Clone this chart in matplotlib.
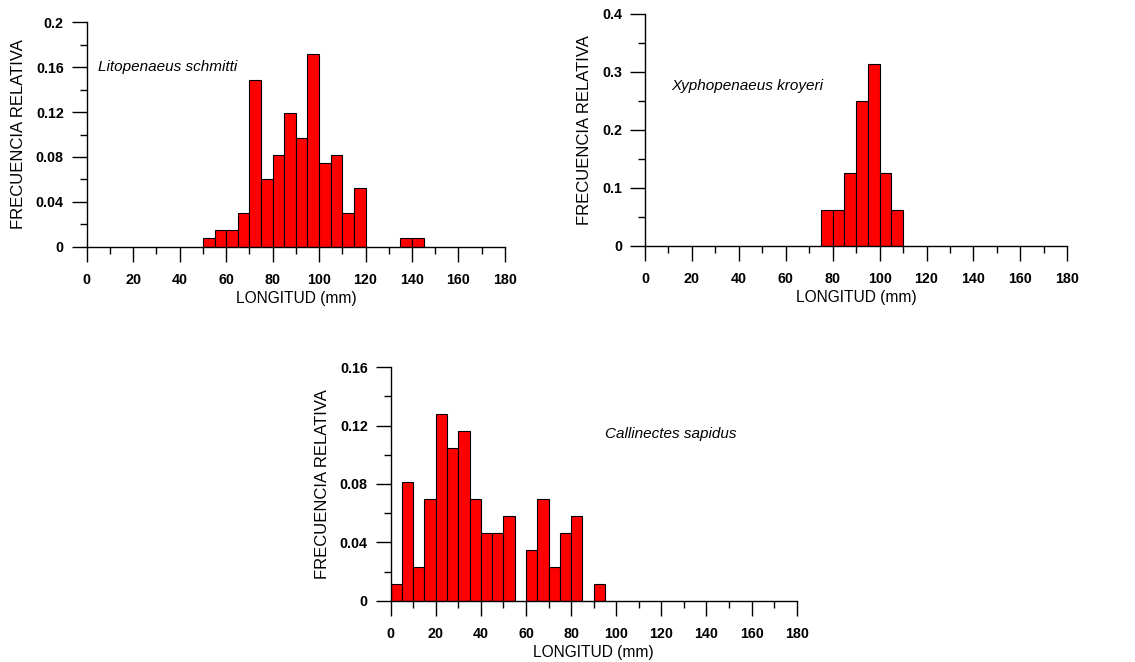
import matplotlib
matplotlib.use("Agg")
import matplotlib.pyplot as plt
from matplotlib.ticker import MultipleLocator, FormatStrFormatter

plt.rcParams['font.family'] = ['Liberation Sans', 'DejaVu Sans']

# Litopenaeus schmitti
ls_left = [50, 55, 60, 65, 70, 75, 80, 85, 90, 95, 100, 105, 110, 115, 135, 140]
ls_freq = [0.0075, 0.015, 0.015, 0.030, 0.149, 0.060, 0.082, 0.119, 0.097, 0.172,
           0.075, 0.082, 0.030, 0.052, 0.0075, 0.0075]

# Xyphopenaeus kroyeri
xk_left = [75, 80, 85, 90, 95, 100, 105]
xk_freq = [0.0625, 0.0625, 0.125, 0.25, 0.3125, 0.125, 0.0625]

# Callinectes sapidus
cs_left = [0, 5, 10, 15, 20, 25, 30, 35, 40, 45, 50, 60, 65, 70, 75, 80, 90]
cs_freq = [0.0116, 0.0814, 0.0233, 0.0698, 0.128, 0.1047, 0.1163, 0.0698, 0.0465,
           0.0465, 0.0581, 0.0349, 0.0698, 0.0233, 0.0465, 0.0581, 0.0116]

bin_width = 5
x_max = 180


def histograma(ax, lefts, freqs, especie, y_max, y_major, y_minor, pos_texto):
    """Dibuja un histograma de frecuencia relativa con el estilo del original."""
    ax.bar(lefts, freqs, width=bin_width, align='edge', color='#ff0000',
           edgecolor='black', linewidth=0.8)

    ax.set_xlim(0, x_max)
    ax.set_ylim(0, y_max)
    ax.spines['top'].set_visible(False)
    ax.spines['right'].set_visible(False)
    for s in ('left', 'bottom'):
        ax.spines[s].set_linewidth(1.0)

    ax.xaxis.set_major_locator(MultipleLocator(20))
    ax.xaxis.set_minor_locator(MultipleLocator(10))
    ax.yaxis.set_major_locator(MultipleLocator(y_major))
    ax.yaxis.set_minor_locator(MultipleLocator(y_minor))
    ax.yaxis.set_major_formatter(FormatStrFormatter('%g'))

    ax.tick_params(which='major', direction='out', length=10.5, width=1.0, pad=6,
                   labelsize=10.3)
    ax.tick_params(axis='x', which='major', pad=8.5)
    ax.tick_params(which='minor', direction='out', length=5, width=1.0)
    for lbl in ax.get_xticklabels() + ax.get_yticklabels():
        lbl.set_fontweight('bold')

    ax.set_xlabel('LONGITUD (mm)', fontsize=11.2, labelpad=2.5)
    ax.set_ylabel('FRECUENCIA RELATIVA', fontsize=12, labelpad=7)
    ax.text(pos_texto[0], pos_texto[1], especie, fontsize=11, style='italic',
            va='center', ha='left')


fig = plt.figure(figsize=(11.35, 6.62), dpi=100)

ax1 = fig.add_axes([0.0764, 0.6273, 0.3685, 0.339])
histograma(ax1, ls_left, ls_freq, 'Litopenaeus schmitti', 0.2, 0.04, 0.02, (5, 0.16))

ax2 = fig.add_axes([0.5683, 0.6284, 0.372, 0.351])
histograma(ax2, xk_left, xk_freq, 'Xyphopenaeus kroyeri', 0.4, 0.1, 0.05, (11, 0.275))

ax3 = fig.add_axes([0.3442, 0.0926, 0.3577, 0.3526])
histograma(ax3, cs_left, cs_freq, 'Callinectes sapidus', 0.16, 0.04, 0.02, (95, 0.114))

fig.savefig('out.png', dpi=100)
